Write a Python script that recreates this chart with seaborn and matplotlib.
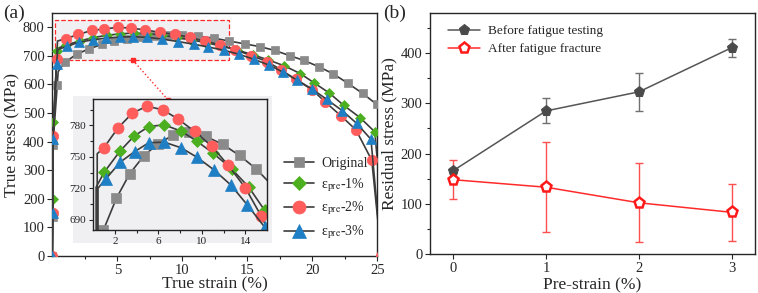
import numpy as np
import matplotlib
matplotlib.use("Agg")
import matplotlib.pyplot as plt
from matplotlib.patches import Rectangle
from matplotlib.ticker import FixedLocator
import seaborn as sns

# ---- panel (a): true stress-strain curves (marker points) ----
orig_strain = [0, 0.02, 0.05, 0.38, 0.97, 1.92, 2.85, 3.8, 4.75, 5.73, 6.75, 7.8, 8.9, 10.0, 11.2,
               12.4, 13.6, 14.8, 16.0, 17.1, 18.25, 19.35, 20.5, 21.6, 22.7, 23.85, 24.95, 26.0]
orig_stress = [0, 136, 387, 599, 678, 707, 725, 740, 751, 759, 766, 771, 774, 774, 769,
               762, 752, 742, 732, 719, 701, 684, 662, 637, 605, 569, 530, 470]
orig_knee = [0.45, 645]

pre1_strain = [0, 0.03, 0.07, 0.38, 1.05, 2.1, 3.15, 4.2, 5.2, 6.25, 7.3, 8.4, 9.55, 10.7, 11.85,
               13.0, 14.2, 15.4, 16.6, 17.85, 19.07, 20.15, 21.3, 22.4, 23.66, 24.8, 25.6]
pre1_stress = [0, 201, 469, 716, 738, 752, 764, 772, 777, 780, 778, 773, 765, 756, 746,
               734, 721, 704, 686, 665, 638, 605, 570, 527, 484, 434, 0]
pre1_knee = [0.45, 727]

pre2_strain = [0, 0.05, 0.07, 0.33, 1.02, 2.0, 3.03, 4.0, 5.03, 6.06, 7.14, 8.3, 9.45, 10.56, 11.77,
               12.92, 14.08, 15.29, 16.52, 17.6, 18.7, 20.0, 21.0, 22.2, 23.35, 24.56, 25.3]
pre2_stress = [0, 152, 419, 690, 760, 775, 789, 794, 800, 797, 791, 782, 775, 765, 751,
               739, 721, 701, 680, 651, 618, 581, 538, 490, 441, 335, 0]
pre2_knee = [0.4, 752]

pre3_strain = [0, 0.03, 0.06, 0.33, 1.1, 2.07, 3.1, 4.1, 5.2, 6.24, 7.27, 8.4, 9.7, 10.86, 12.0,
               13.18, 14.33, 15.5, 16.65, 17.7, 18.84, 20.0, 21.1, 22.3, 23.4, 24.5, 25.3]
pre3_stress = [0, 149, 411, 672, 733, 748, 756, 762, 766, 767, 765, 759, 750, 741, 731,
               720, 706, 688, 668, 644, 615, 583, 548, 508, 464, 408, 0]
pre3_knee = [0.42, 722]

# ---- inset (zoomed peak region, its own sampling) ----
in_orig_strain = [0.5, 0.95, 2.15, 3.36, 4.64, 5.95, 7.31, 8.77, 10.36, 11.93, 13.45, 14.97, 16.5]
in_orig_stress = [640, 680, 710.5, 733.8, 750.7, 762.5, 770.4, 773.6, 769.5, 761.8, 751.3, 738.6, 722]
in_pre1_strain = [0.28, 0.28, 1.03, 2.45, 3.76, 5.12, 6.53, 8.07, 9.53, 11.02, 12.72, 14.3, 15.76, 17.2]
in_pre1_stress = [640, 721, 735.4, 755.2, 769.8, 779, 780.6, 774.6, 765, 753.5, 738.6, 721, 698.8, 672]
in_pre2_strain = [0.38, 0.38, 0.99, 2.30, 3.61, 4.94, 6.40, 7.83, 9.32, 10.9, 12.42, 14.0, 15.46, 16.9]
in_pre2_stress = [640, 753, 758.7, 777.8, 791.8, 798.4, 795, 786, 774.3, 760.2, 741.8, 720.1, 693, 662]
in_pre3_strain = [0.45, 0.45, 1.18, 2.5, 3.82, 5.12, 6.55, 8.07, 9.53, 11.08, 12.63, 14.15, 15.76, 17.3]
in_pre3_stress = [640, 720, 729, 745, 755, 763.5, 764, 758.7, 749.7, 737.7, 723.3, 704.2, 682.8, 658]

# ---- panel (b): residual stress ----
pre_strain = [0, 1, 2, 3]
before_stress = [166, 285, 323, 411]
before_err = [4, 25, 38, 18]
after_stress = [148, 133, 102, 83]
after_err = [39, 90, 79, 57]

labels = ["Original", "ε$_{\\mathrm{pre}}$-1%", "ε$_{\\mathrm{pre}}$-2%", "ε$_{\\mathrm{pre}}$-3%"]

sns.set_style("ticks")
plt.rcParams["font.family"] = ["Liberation Serif", "DejaVu Serif"]
plt.rcParams["mathtext.fontset"] = "stix"

line_c = "#3c3c3c"
styles = [("s", "#8a8a8a", 6), ("D", "#4caf1f", 5.5), ("o", "#ff5c5c", 7.5), ("^", "#1f7fc4", 7.5)]

fig = plt.figure(figsize=(7.58, 2.93), dpi=100)
ax = fig.add_axes([0.069, 0.1263, 0.429, 0.8293])
ax2 = fig.add_axes([0.5673, 0.1331, 0.4287, 0.8225])

# main curves
curves = [(orig_strain, orig_stress, orig_knee), (pre1_strain, pre1_stress, pre1_knee),
          (pre2_strain, pre2_stress, pre2_knee), (pre3_strain, pre3_stress, pre3_knee)]
for (xs, ys, knee), (m, c, ms), lab in zip(curves, styles, labels):
    lx = xs[:4] + [knee[0]] + xs[4:]
    ly = ys[:4] + [knee[1]] + ys[4:]
    mk = [i for i in range(len(lx)) if i != 4]
    sns.lineplot(x=lx, y=ly, ax=ax, sort=False, estimator=None, color=line_c, lw=1.2,
                 marker=m, markersize=ms, markevery=mk, markerfacecolor=c,
                 markeredgecolor=c, markeredgewidth=0.5, label=lab, zorder=3)

ax.set_xlim(0, 25)
ax.set_ylim(0, 850)
ax.xaxis.set_major_locator(FixedLocator([5, 10, 15, 20, 25]))
ax.xaxis.set_minor_locator(FixedLocator([2.5, 7.5, 12.5, 17.5, 22.5]))
ax.set_yticks(range(0, 801, 100))
ax.set_xlabel("True strain (%)", fontsize=12.5, labelpad=0)
ax.set_ylabel("True stress (MPa)", fontsize=12.5, labelpad=2)
ax.tick_params(labelsize=10.5, direction="out", length=3.5, width=0.8, pad=2)
ax.tick_params(which="minor", direction="out", length=2, width=0.8)
for s in ax.spines.values():
    s.set_visible(True)
    s.set_linewidth(1.0)

# zoom box + connector
ax.add_patch(Rectangle((0.2, 685), 13.4, 140, facecolor="#f0eff2", edgecolor="#ff2a2a",
                       linestyle="--", lw=0.9, zorder=1))
ax.plot([6.19, 8.88], [685, 547], ":", color="#ff2a2a", lw=1.0, marker="s", markersize=2.2, zorder=4)

# grey backdrop behind the inset and its tick labels
ax.add_patch(Rectangle((0.0963, 0.1706), 0.2625, 0.5017, transform=fig.transFigure,
                       facecolor="#f0eff2", edgecolor="none", zorder=0.5, clip_on=False))

ax.legend(loc="lower right", bbox_to_anchor=(1.0, 0.02), frameon=False, fontsize=10,
          handlelength=2.2, handletextpad=0.5, labelspacing=0.45, borderaxespad=0.3,
          markerscale=1.25)

# inset
axi = fig.add_axes([0.1228, 0.215, 0.2298, 0.446])
axi.set_facecolor("#f0eff2")
inset_curves = [(in_orig_strain, in_orig_stress, 0), (in_pre1_strain, in_pre1_stress, 1),
                (in_pre2_strain, in_pre2_stress, 1), (in_pre3_strain, in_pre3_stress, 1)]
for (xs, ys, skip), (m, c, ms) in zip(inset_curves, styles):
    mk = list(range(skip + 1, len(xs)))
    sns.lineplot(x=xs, y=ys, ax=axi, sort=False, estimator=None, color=line_c, lw=1.2,
                 marker=m, markersize=ms + 0.5, markevery=mk, markerfacecolor=c,
                 markeredgecolor=c, markeredgewidth=0.5)
axi.set_xlim(0, 16)
axi.set_ylim(680, 805)
axi.xaxis.set_major_locator(FixedLocator([2, 6, 10, 14]))
axi.xaxis.set_minor_locator(FixedLocator([4, 8, 12]))
axi.yaxis.set_major_locator(FixedLocator([690, 720, 750, 780]))
axi.yaxis.set_minor_locator(FixedLocator([705, 735, 765, 795]))
axi.tick_params(labelsize=8, direction="out", length=3, width=0.8, pad=2)
axi.tick_params(which="minor", direction="out", length=2, width=0.8)
for s in axi.spines.values():
    s.set_linewidth(1.0)
    s.set_color("#222222")

# panel (b)
sns.lineplot(x=pre_strain, y=before_stress, ax=ax2, color="#555555", lw=1.1, marker="p",
             markersize=8, markerfacecolor="#4a4a4a", markeredgecolor="#4a4a4a",
             label="Before fatigue testing", zorder=3)
ax2.errorbar(pre_strain, before_stress, yerr=before_err, fmt="none", ecolor="#707070",
             elinewidth=1.0, capsize=3, zorder=2)
sns.lineplot(x=pre_strain, y=after_stress, ax=ax2, color="#ff2a2a", lw=1.1, marker="p",
             markersize=8, markerfacecolor="white", markeredgecolor="#ff1a1a",
             markeredgewidth=1.8, label="After fatigue fracture", zorder=4)
ax2.errorbar(pre_strain, after_stress, yerr=after_err, fmt="none", ecolor="#ff5050",
             elinewidth=1.0, capsize=3, zorder=2)
ax2.set_xlim(-0.25, 3.25)
ax2.set_ylim(0, 480)
ax2.set_xticks([0, 1, 2, 3])
ax2.set_yticks([0, 100, 200, 300, 400])
ax2.yaxis.set_minor_locator(FixedLocator([50, 150, 250, 350, 450]))
ax2.set_xlabel("Pre-strain (%)", fontsize=12.5, labelpad=2)
ax2.set_ylabel("Residual stress (MPa)", fontsize=12.5, labelpad=2)
ax2.tick_params(labelsize=10.5, direction="out", length=3.5, width=0.8, pad=2)
ax2.tick_params(which="minor", direction="out", length=2, width=0.8)
for s in ax2.spines.values():
    s.set_visible(True)
    s.set_linewidth(1.0)
ax2.legend(loc="upper left", frameon=False, fontsize=9.5, handlelength=2.4,
           handletextpad=0.6, labelspacing=0.45, borderaxespad=0.5, bbox_to_anchor=(0.02, 1.0))

fig.text(0.004, 0.985, "(a)", fontsize=14, va="top", ha="left")
fig.text(0.506, 0.985, "(b)", fontsize=14, va="top", ha="left")

fig.savefig("out.png", dpi=100)
